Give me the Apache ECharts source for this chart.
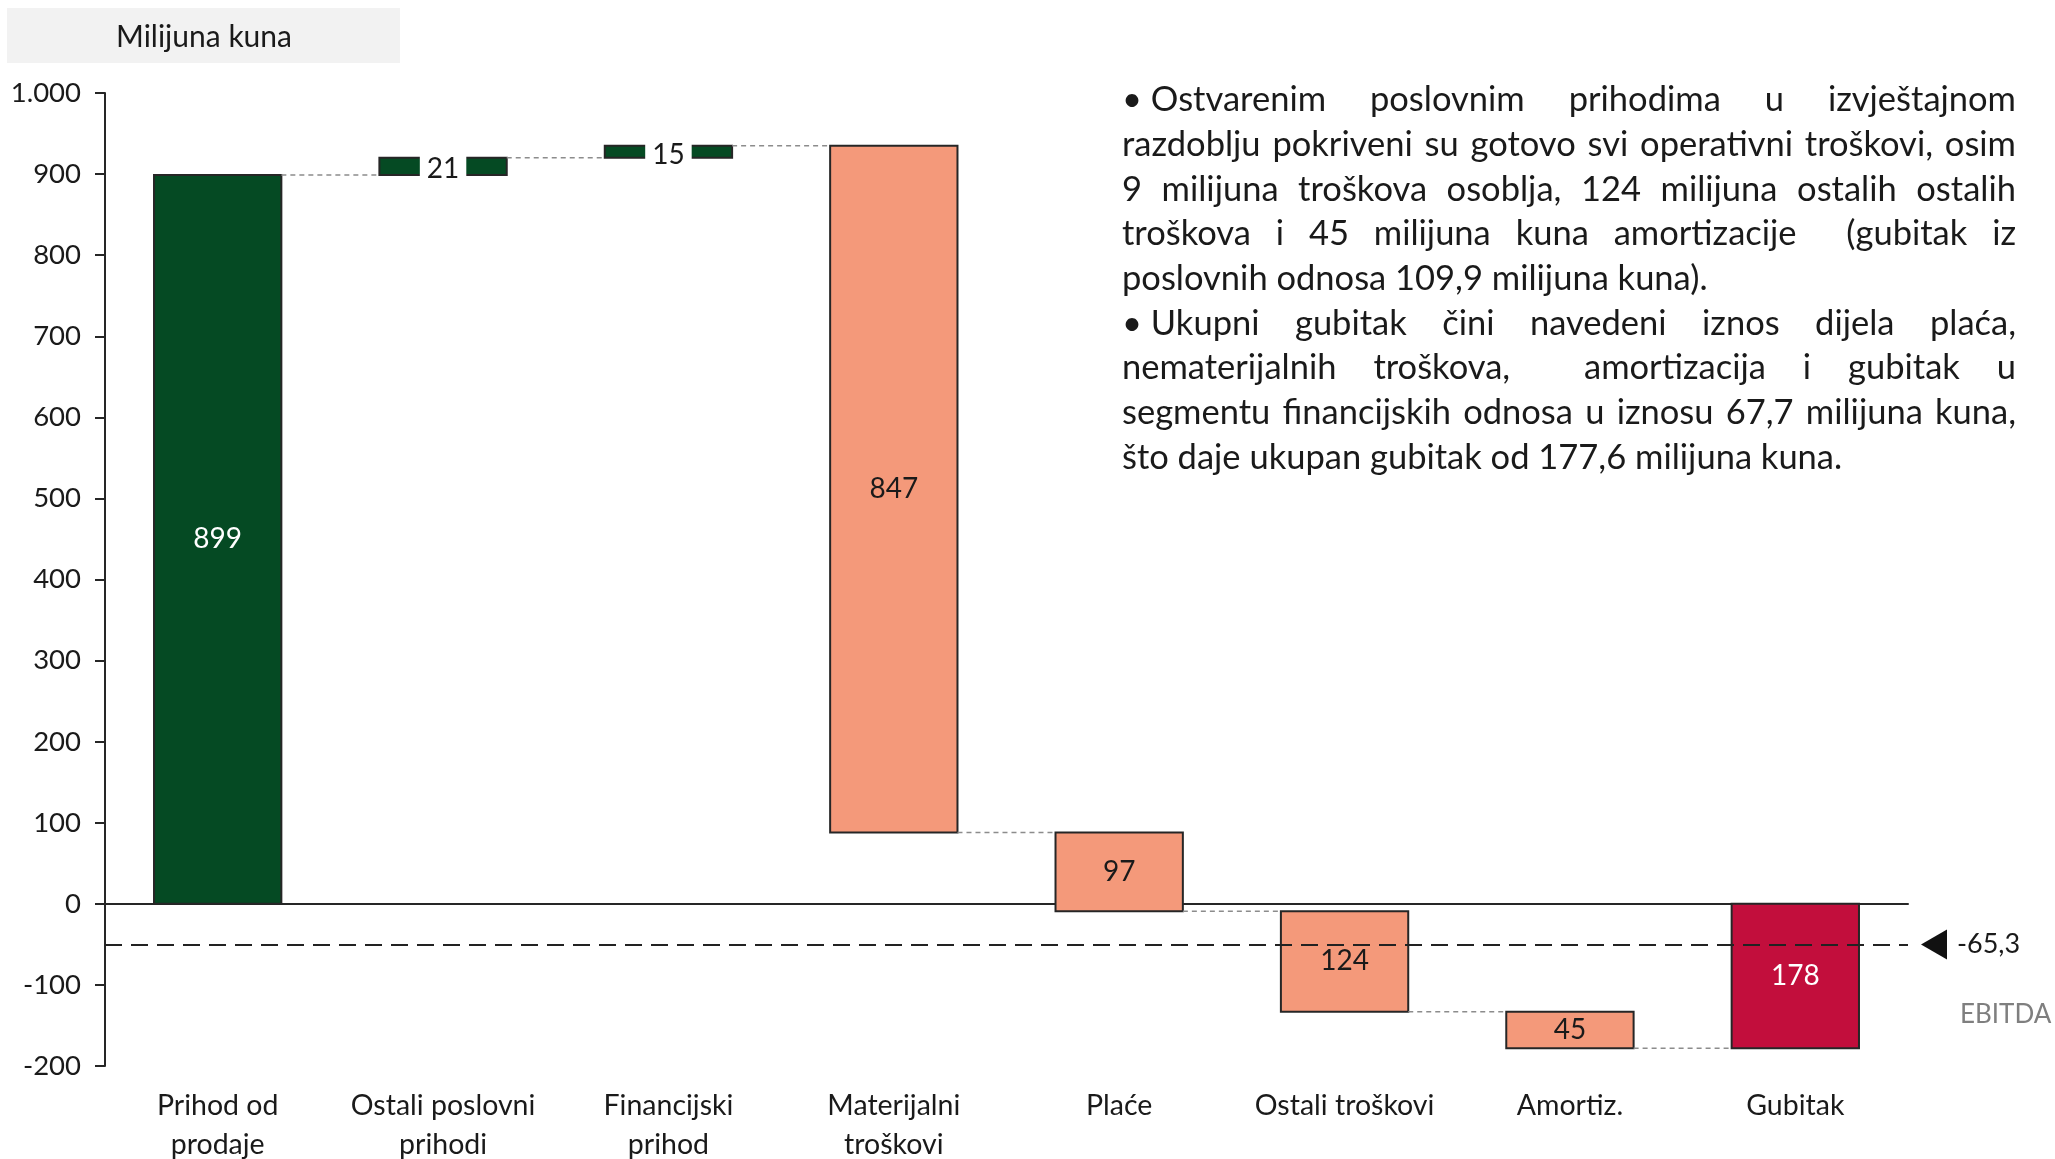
<!DOCTYPE html>
<html>
<head>
<meta charset="utf-8">
<script src="https://cdn.jsdelivr.net/npm/echarts@6/dist/echarts.min.js"></script>
<style>
  html, body { margin: 0; padding: 0; background: #fff; }
  #chart { width: 2055px; height: 1159px; }
</style>
</head>
<body>
<div id="chart"></div>
<script>
// podaci (milijuna kuna)
const categories = ['Prihod od\nprodaje', 'Ostali poslovni\nprihodi', 'Financijski\nprihod', 'Materijalni\ntroškovi', 'Plaće', 'Ostali troškovi', 'Amortiz.', 'Gubitak'];
const changes = [899, 21, 15, -847, -97, -124, -45, -178];
const kinds = ['prihod', 'prihod', 'prihod', 'trosak', 'trosak', 'trosak', 'trosak', 'gubitak'];
const valueLabels = ['899', '21', '15', '847', '97', '124', '45', '178'];
const yMin = -200;
const yMax = 1000;
const yStep = 100;
const ebitdaLevel = -50;
const ebitdaLabel = '-65,3';
const noteLines = [
  ['•\u00a0Ostvarenim poslovnim prihodima u izvještajnom', true],
  ['razdoblju pokriveni su gotovo svi operativni troškovi, osim', true],
  ['9 milijuna troškova osoblja, 124 milijuna ostalih ostalih', true],
  ['troškova i 45 milijuna kuna amortizacije  (gubitak iz', true],
  ['poslovnih odnosa 109,9 milijuna kuna).', false],
  ['•\u00a0Ukupni gubitak čini navedeni iznos dijela plaća,', true],
  ['nematerijalnih troškova,  amortizacija i gubitak u', true],
  ['segmentu financijskih odnosa u iznosu 67,7 milijuna kuna,', true],
  ['što daje ukupan gubitak od 177,6 milijuna kuna.', false]
];

const colors = { prihod: '#054a23', trosak: '#f4997a', gubitak: '#c20e3c' };
const labelColors = { prihod: '#ffffff', trosak: '#1a1a1a', gubitak: '#ffffff' };
const FONT = 'Lato, "Noto Sans", sans-serif';

// početak i kraj svakog stupca
let running = 0;
const bars = changes.map((c, i) => {
  if (kinds[i] === 'gubitak') return [i, 0, c];
  const start = running;
  running += c;
  return [i, start, running];
});

function renderBar(params, api) {
  const i = api.value(0);
  const s = api.value(1);
  const e = api.value(2);
  const top = api.coord([i, Math.max(s, e)]);
  const bot = api.coord([i, Math.min(s, e)]);
  const w = api.size([1, 0])[0] * 0.565;
  const x = top[0] - w / 2;
  const h = bot[1] - top[1];
  const children = [{
    type: 'rect',
    shape: { x: x, y: top[1], width: w, height: h },
    style: { fill: colors[kinds[i]], stroke: '#262626', lineWidth: 2 }
  }];
  if (i < bars.length - 1) {
    const nextLeft = api.coord([i + 1, 0])[0] - w / 2;
    const y = api.coord([i, e])[1];
    children.push({
      type: 'line',
      shape: { x1: x + w, y1: y, x2: nextLeft, y2: y },
      style: { stroke: '#8c8c8c', lineDash: [5, 4], lineWidth: 1.5 }
    });
  }
  const small = h < 30;
  children.push({
    type: 'text',
    x: top[0],
    y: top[1] + h / 2 + (small ? 3 : 0),
    style: {
      text: valueLabels[i],
      font: '28px ' + FONT,
      fill: small ? '#1a1a1a' : labelColors[kinds[i]],
      align: 'center', verticalAlign: 'middle',
      textAlign: 'center', textVerticalAlign: 'middle',
      backgroundColor: small ? '#ffffff' : 'transparent',
      padding: small ? [2, 7] : 0
    }
  });
  return { type: 'group', children: children };
}

const chart = echarts.init(document.getElementById('chart'));

const option = {
  animation: false,
  grid: { left: 105, right: 147, top: 93, bottom: 93, containLabel: false, outerBoundsMode: 'none' },
  xAxis: [
    {
      type: 'category',
      data: categories,
      position: 'bottom',
      axisLine: { show: false, onZero: false },
      axisTick: { show: false },
      axisLabel: { fontSize: 28.5, lineHeight: 39, fontFamily: FONT, color: '#1a1a1a', margin: 20, interval: 0 }
    },
    {
      type: 'category',
      data: categories,
      position: 'bottom',
      axisLine: { show: true, onZero: true, lineStyle: { color: '#262626', width: 2 } },
      axisTick: { show: false },
      axisLabel: { show: false }
    }
  ],
  yAxis: {
    type: 'value',
    min: yMin,
    max: yMax,
    interval: yStep,
    axisLine: { show: true, lineStyle: { color: '#262626', width: 2 } },
    axisTick: { show: true, length: 10, lineStyle: { color: '#262626', width: 2 } },
    splitLine: { show: false },
    axisLabel: {
      fontSize: 27.5, fontFamily: FONT, color: '#1a1a1a', margin: 24,
      formatter: v => String(v).replace(/\B(?=(\d{3})+(?!\d))/g, '.')
    }
  },
  series: [
    {
      type: 'custom',
      renderItem: renderBar,
      encode: { x: 0, y: [1, 2] },
      data: bars,
      z: 2
    },
    {
      type: 'line',
      data: [],
      z: 5,
      markLine: {
        silent: true,
        symbol: ['none', 'none'],
        label: { show: false },
        lineStyle: { color: '#222', type: [17, 9], width: 2 },
        data: [{ yAxis: ebitdaLevel }]
      }
    }
  ]
};
chart.setOption(option);

// tekst s desne strane, poravnat obostrano
const ctx = document.createElement('canvas').getContext('2d');
const noteFont = '34.5px ' + FONT;
ctx.font = noteFont;
const noteLeft = 1122;
const noteRight = 2016;
const noteTop = 100;
const noteStep = 44.7;
const graphics = [];
noteLines.forEach(([line, justify], li) => {
  const y = noteTop + li * noteStep;
  if (!justify) {
    graphics.push({ type: 'text', x: noteLeft, y: y, style: { text: line, font: noteFont, fill: '#1a1a1a', verticalAlign: 'middle', textVerticalAlign: 'middle' } });
    return;
  }
  const words = line.split(' ');
  const widths = words.map(w => ctx.measureText(w).width);
  const total = widths.reduce((a, b) => a + b, 0);
  const gap = (noteRight - noteLeft - total) / (words.length - 1);
  let x = noteLeft;
  words.forEach((w, wi) => {
    if (w) graphics.push({ type: 'text', x: x, y: y, style: { text: w, font: noteFont, fill: '#1a1a1a', verticalAlign: 'middle', textVerticalAlign: 'middle' } });
    x += widths[wi] + gap;
  });
});

// naslov
graphics.push({ type: 'rect', shape: { x: 7, y: 8, width: 393, height: 55 }, style: { fill: '#f2f2f2' } });
graphics.push({ type: 'text', x: 204, y: 37, style: { text: 'Milijuna kuna', font: '30px ' + FONT, fill: '#1a1a1a', align: 'center', verticalAlign: 'middle', textAlign: 'center', textVerticalAlign: 'middle' } });

// oznaka EBITDA
const ey = chart.convertToPixel({ yAxisIndex: 0 }, ebitdaLevel);
graphics.push({ type: 'polygon', shape: { points: [[1921, ey], [1947, ey - 15], [1947, ey + 15]] }, style: { fill: '#111' } });
graphics.push({ type: 'text', x: 1957, y: ey, style: { text: ebitdaLabel, font: '27px ' + FONT, fill: '#1a1a1a', verticalAlign: 'middle', textVerticalAlign: 'middle' } });
graphics.push({ type: 'text', x: 1960, y: ey + 70, style: { text: 'EBITDA', font: '26px ' + FONT, fill: '#7f7f7f', verticalAlign: 'middle', textVerticalAlign: 'middle' } });

chart.setOption({ graphic: graphics });
</script>
</body>
</html>
